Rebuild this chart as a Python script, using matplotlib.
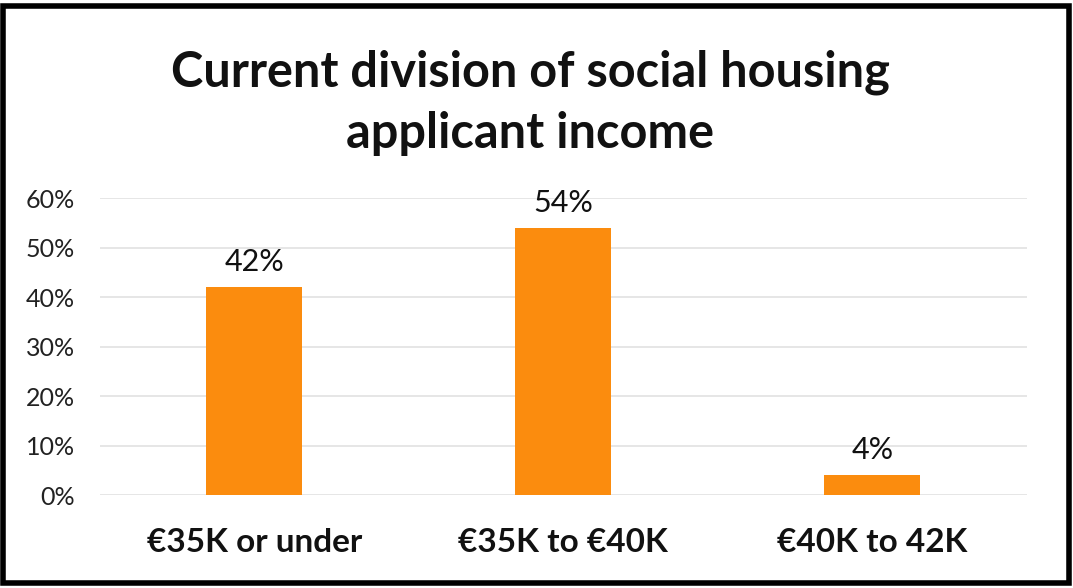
import matplotlib.pyplot as plt
from matplotlib.patches import Rectangle

# chart data
categories = ['€35K or under', '€35K to €40K', '€40K to 42K']
shares = [0.42, 0.54, 0.04]
bar_labels = ['42%', '54%', '4%']
y_ticks = [0, 0.1, 0.2, 0.3, 0.4, 0.5, 0.6]
y_tick_labels = ['0%', '10%', '20%', '30%', '40%', '50%', '60%']

plt.rcParams['font.family'] = ['Lato', 'DejaVu Sans']

fig = plt.figure(figsize=(10.73, 5.88), dpi=100)
ax = fig.add_axes([0.093, 0.158, 0.864, 0.505])

x = range(len(categories))
bars = ax.bar(x, shares, width=0.31, color='#FB8C0E', zorder=2)

for b, lab in zip(bars, bar_labels):
    ax.text(b.get_x() + b.get_width() / 2, b.get_height() + 0.022, lab,
            ha='center', va='bottom', fontsize=22, color='#111111')

ax.set_xlim(-0.5, 2.5)
ax.set_ylim(0, 0.6)
ax.set_yticks(y_ticks)
ax.set_yticklabels(y_tick_labels, fontsize=18, color='#222222')
ax.set_xticks(list(x))
ax.set_xticklabels(categories, fontsize=24, fontweight='bold', color='#111111')
ax.tick_params(axis='both', length=0)
ax.tick_params(axis='x', pad=24)
ax.tick_params(axis='y', pad=18)
ax.grid(axis='y', color='#E2E2E2', linewidth=1.2, zorder=0)
for s in ax.spines.values():
    s.set_visible(False)

fig.text(0.494, 0.877, 'Current division of social housing', ha='center', va='center',
         fontsize=35, fontweight='bold', color='#111111')
fig.text(0.494, 0.773, 'applicant income', ha='center', va='center',
         fontsize=35, fontweight='bold', color='#111111')

# scanned frame
fig.patches.append(Rectangle((0.003, 0.008), 0.993, 0.982, transform=fig.transFigure,
                             fill=False, edgecolor='black', linewidth=4))

fig.savefig('out.png', dpi=100)
